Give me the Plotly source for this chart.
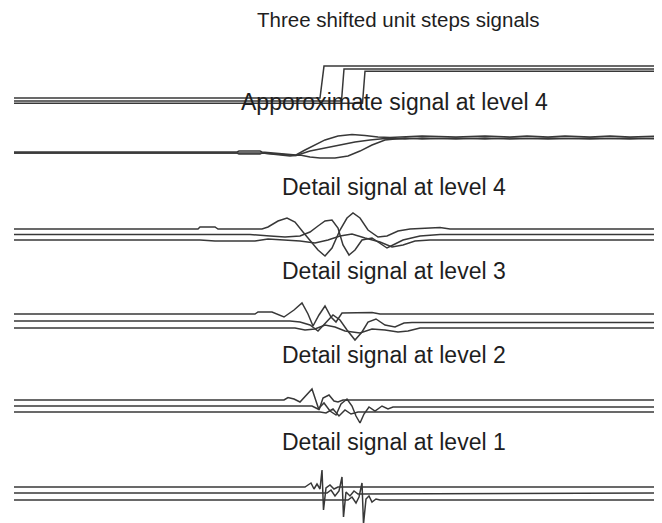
import plotly.graph_objects as go

# page body adds an 8px margin, so the figure covers the window minus that offset
PAGE_OFF = 8
W, H = 662 - PAGE_OFF, 523 - PAGE_OFF

# ---------------- data ----------------
TITLES = ["Three shifted unit steps signals",
          "Apporoximate signal at level 4",
          "Detail signal at level 4",
          "Detail signal at level 3",
          "Detail signal at level 2",
          "Detail signal at level 1"]

# Panel 1: three shifted unit steps
STEP_A_X = [14, 320, 324, 662]
STEP_A_Y = [0, 0, 1, 1]
STEP_B_X = [14, 341.5, 344, 662]
STEP_B_Y = [0, 0, 1, 1]
STEP_C_X = [14, 362.5, 365, 662]
STEP_C_Y = [0, 0, 1, 1]

# Panel 2: approximation at level 4
APP_A_X = [14, 237, 239, 260, 262, 290, 296, 305, 315, 325, 338, 352, 365, 378, 390, 405, 422, 456, 485, 510, 527, 548, 565, 590, 610, 630, 662]
APP_A_Y = [0.07, 0.07, 0.13, 0.13, 0.07, -0.1, -0.13, 0.2, 0.53, 0.87, 1.13, 1.23, 1.17, 1.07, 1.03, 1.07, 1.13, 1.07, 1.13, 1.07, 1.13, 1.07, 1.13, 1.07, 1.13, 1.07, 1.13]
APP_B_X = [14, 237, 239, 260, 262, 290, 296, 310, 325, 340, 355, 370, 385, 405, 422, 456, 485, 510, 548, 590, 630, 662]
APP_B_Y = [0, 0, -0.07, -0.07, 0, -0.13, -0.17, 0.13, 0.33, 0.53, 0.73, 0.87, 0.97, 0.93, 1.0, 0.93, 1.0, 0.93, 1.0, 0.93, 1.0, 0.93]
APP_C_X = [14, 262, 290, 300, 310, 320, 335, 348, 360, 372, 385, 405, 422, 456, 485, 510, 548, 590, 630, 662]
APP_C_Y = [0, 0, -0.2, -0.13, -0.27, -0.33, -0.33, -0.2, 0.13, 0.53, 0.87, 1.0, 0.93, 1.0, 0.93, 1.0, 0.93, 1.0, 0.93, 1.0]

# Panel 3: detail at level 4
D4_A_X = [14, 198, 200, 215, 218, 262, 268, 278, 287, 295, 303, 310, 318, 325, 332, 340, 347, 353, 360, 368, 378, 387, 398, 410, 425, 440, 450, 662]
D4_A_Y = [0, 0, 0.2, 0.2, 0, 0, 0.2, 0.8, 1.1, 0.7, -0.3, -1.1, -2.1, -2.7, -1.9, -0.1, 1.1, 1.6, 1.1, -0.1, -0.8, -0.7, -0.2, 0, 0.1, 0.15, 0, 0]
D4_B_X = [14, 250, 270, 285, 300, 310, 318, 325, 332, 338, 343, 349, 355, 362, 372, 380, 387, 395, 403, 420, 440, 662]
D4_B_Y = [0, 0, -0.15, -0.25, -0.15, 0.25, 0.85, 1.35, 1.45, 0.65, -1.05, -2.05, -1.55, -0.55, -0.35, -0.85, -1.35, -0.95, -0.55, -0.15, 0, 0]
D4_C_X = [14, 200, 215, 255, 268, 300, 315, 328, 340, 352, 365, 380, 392, 403, 415, 430, 662]
D4_C_Y = [0, 0, -0.1, -0.1, 0.1, -0.1, -0.3, 0, 0.4, 0.6, 0.2, -0.2, -0.7, -0.5, -0.1, 0, 0]

# Panel 4: detail at level 3
D3_A_X = [14, 255, 258, 272, 284, 294, 302, 308, 313, 319, 325, 331, 336, 342, 372, 380, 662]
D3_A_Y = [0, 0, 0.2, 0.2, -0.3, 0.4, 1.1, 0, -1.2, -0.1, 0.8, -0.3, -0.8, 0.1, 0.15, 0, 0]
D3_B_X = [14, 290, 300, 310, 318, 326, 333, 340, 347, 355, 362, 368, 376, 385, 395, 404, 412, 662]
D3_B_Y = [0, 0, -0.1, -0.4, -1.0, -0.1, 0.6, 0.1, -0.9, -1.9, -1.1, -0.1, 0.2, -0.4, -0.6, -0.2, -0.15, -0.15]
D3_C_X = [14, 295, 305, 315, 325, 335, 345, 360, 372, 385, 398, 408, 420, 662]
D3_C_Y = [0, 0, -0.2, -0.1, 0.3, 0.1, -0.3, -0.5, -0.1, -0.2, -0.4, -0.3, 0, 0]

# Panel 5: detail at level 2
D2_A_X = [14, 284, 288, 294, 300, 306, 312, 316, 319, 323, 329, 334, 338, 343, 662]
D2_A_Y = [0, 0, 0.25, 0.1, -0.2, 0.5, 1.1, -0.1, -1.0, 0.2, 0.5, -0.1, -0.2, 0, 0]
D2_B_X = [14, 312, 318, 324, 330, 336, 341, 347, 352, 356, 360, 364, 369, 375, 382, 388, 393, 662]
D2_B_Y = [0, 0, -0.3, 0.3, -0.5, -0.9, 0.2, 0.7, 0, -1.0, -1.7, -0.8, -0.1, -0.5, 0, -0.3, -0.1, -0.1]
D2_C_X = [14, 320, 326, 333, 339, 345, 351, 358, 662]
D2_C_Y = [0, 0, -0.1, 0.3, -0.4, 0.2, -0.2, 0, 0]

# Panel 6: detail at level 1
D1_A_X = [14, 305, 308, 311, 314, 317, 320, 322, 323.5, 326, 330, 334, 338, 662]
D1_A_Y = [0, 0, 0.2, 0.4, -0.2, 0.3, -0.2, 1.7, -2.3, -0.1, 0.2, -0.2, 0, 0]
D1_B_X = [14, 327, 331, 335, 339, 342, 343.5, 346, 350, 354, 358, 662]
D1_B_Y = [0, 0, 0.3, -0.3, 0.2, 1.6, -2.4, 0.1, -0.3, 0.2, -0.1, 0]
D1_C_X = [14, 348, 352, 356, 359, 362, 363.5, 366, 369, 372, 376, 380, 662]
D1_C_Y = [0, 0, 0.3, -0.3, 0.3, 1.7, -2.4, 0.1, 0.4, -0.2, 0.1, 0, 0]

# display offsets separating the three signals in each panel
OFFSETS = [[0.09, 0, -0.07],
           [0, 0, 0],
           [0.55, 0, -0.55],
           [0.7, 0, -0.7],
           [0.6, 0, -0.6],
           [0.6, 0, -0.7]]

PANELS = [
    [(STEP_A_X, STEP_A_Y), (STEP_B_X, STEP_B_Y), (STEP_C_X, STEP_C_Y)],
    [(APP_A_X, APP_A_Y), (APP_B_X, APP_B_Y), (APP_C_X, APP_C_Y)],
    [(D4_A_X, D4_A_Y), (D4_B_X, D4_B_Y), (D4_C_X, D4_C_Y)],
    [(D3_A_X, D3_A_Y), (D3_B_X, D3_B_Y), (D3_C_X, D3_C_Y)],
    [(D2_A_X, D2_A_Y), (D2_B_X, D2_B_Y), (D2_C_X, D2_C_Y)],
    [(D1_A_X, D1_A_Y), (D1_B_X, D1_B_Y), (D1_C_X, D1_C_Y)],
]

# ---------------- layout geometry (window pixels) ----------------
ZERO_PX = [101, 153, 234.5, 321, 406, 493]   # window row of value 0
PX_PER_UNIT = [32, 15, 10, 10, 10, 10]
BANDS = [(40, 125), (115, 178), (198, 275), (283, 360), (368, 440), (455, 523)]
TITLE_Y = [20, 102, 187, 271, 355, 442]
TITLE_X = [398, 394, 394, 394, 394, 394]
TITLE_SIZE = [20.5, 23, 23, 23, 23, 23]


def fy(py):
    """window pixel row -> paper fraction"""
    return 1 - (py - PAGE_OFF) / H


fig = go.Figure()
layout = dict(
    width=W, height=H,
    margin=dict(l=0, r=0, t=0, b=0),
    paper_bgcolor="white", plot_bgcolor="white",
    showlegend=False,
    xaxis=dict(range=[PAGE_OFF, 662], domain=[0, 1], visible=False, fixedrange=True),
)

for k, sigs in enumerate(PANELS):
    yname = "y" if k == 0 else f"y{k+1}"
    akey = "yaxis" if k == 0 else f"yaxis{k+1}"
    pt, pb = BANDS[k]
    p0, s = ZERO_PX[k], PX_PER_UNIT[k]
    layout[akey] = dict(
        domain=[max(0, fy(pb)), min(1, fy(pt))],
        range=[(p0 - pb) / s, (p0 - pt) / s],
        visible=False, anchor="x", fixedrange=True,
    )
    for j, (xs, ys) in enumerate(sigs):
        off = OFFSETS[k][j]
        fig.add_trace(go.Scatter(
            x=xs, y=[v + off for v in ys], mode="lines",
            xaxis="x", yaxis=yname,
            line=dict(color="#383838", width=1.5),
            hoverinfo="skip",
        ))

annotations = []
for k, t in enumerate(TITLES):
    annotations.append(dict(
        text=t, x=(TITLE_X[k] - PAGE_OFF) / W, y=fy(TITLE_Y[k]),
        xref="paper", yref="paper", xanchor="center", yanchor="middle",
        showarrow=False,
        font=dict(family="Liberation Sans, Arial, sans-serif", size=TITLE_SIZE[k], color="#1e1e1e"),
    ))
layout["annotations"] = annotations
fig.update_layout(**layout)

fig.write_html("out.html")
